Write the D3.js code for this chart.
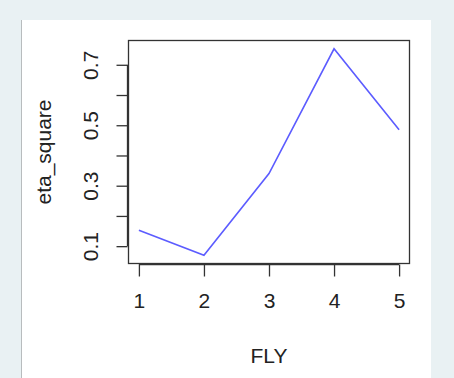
<!DOCTYPE html>
<html>
<head>
<meta charset="utf-8">
<script src="https://cdn.jsdelivr.net/npm/d3@7"></script>
<style>
  body { margin: 0; background: #e9f1f3; }
  svg { display: block; }
</style>
</head>
<body>
<script>
  //=DATA=//
  const fly = [1, 2, 3, 4, 5];
  const etaSquare = [0.153, 0.07, 0.34, 0.753, 0.485];
  const yTicks = [0.1, 0.2, 0.3, 0.4, 0.5, 0.6, 0.7];
  const yLabels = [0.1, 0.3, 0.5, 0.7];

  //=SVG AREA=//
  const width = 454;
  const height = 378;
  const box = {left: 128.5, right: 409.5, top: 40.5, bottom: 263.5};
  const font = "'Liberation Sans', Arial, sans-serif";

  const svg = d3.select("body")
  .append("svg")
  .attr("width", width)
  .attr("height", height);

  // white panel with thin grey left edge
  svg.append("rect")
  .attr("x", 22).attr("y", 20)
  .attr("width", 409).attr("height", 358)
  .attr("fill", "#ffffff");
  svg.append("line")
  .attr("x1", 21.5).attr("x2", 21.5)
  .attr("y1", 20).attr("y2", 378)
  .attr("stroke", "#b8bcbe");

  // R style scales: range extended 4% each side
  const xMin = d3.min(fly), xMax = d3.max(fly);
  const yMin = d3.min(etaSquare), yMax = d3.max(etaSquare);
  const xPad = (xMax - xMin) * 0.04, yPad = (yMax - yMin) * 0.04;

  const x = d3.scaleLinear()
  .domain([xMin - xPad, xMax + xPad])
  .range([box.left, box.right]);

  const y = d3.scaleLinear()
  .domain([yMin - yPad, yMax + yPad])
  .range([box.bottom, box.top]);

  //==AXES==
  const xAxis = d3.axisBottom(x)
  .tickValues(fly)
  .tickSize(12)
  .tickPadding(17)
  .tickFormat(d3.format("d"));

  const yAxis = d3.axisLeft(y)
  .tickValues(yTicks)
  .tickSize(11)
  .tickFormat(d => yLabels.some(v => Math.abs(v - d) < 1e-9) ? d3.format(".1f")(d) : "");

  const gx = svg.append("g")
  .attr("transform", "translate(0," + (box.bottom + 1) + ")")
  .call(xAxis);

  const gy = svg.append("g")
  .attr("transform", "translate(" + (box.left - 1) + ",0)")
  .call(yAxis);

  [gx, gy].forEach(g => {
    g.select(".domain").attr("stroke", "#333").attr("stroke-width", 1.3);
    g.selectAll(".tick line").attr("stroke", "#333").attr("stroke-width", 1.3);
    g.selectAll(".tick text")
    .attr("fill", "#222")
    .style("font-family", font)
    .style("font-size", "21px");
  });
  gx.select(".domain").attr("d", "M" + x(1) + ",0H" + x(5));
  gy.select(".domain").attr("d", "M0," + y(0.1) + "V" + y(0.7));

  // rotate y tick labels like R
  gy.selectAll(".tick text")
  .attr("x", 0)
  .attr("dy", null)
  .attr("text-anchor", "middle")
  .attr("transform", "translate(-37,0) rotate(-90)")
  .attr("dominant-baseline", "central");

  //==PLOT BOX==
  svg.append("rect")
  .attr("x", box.left).attr("y", box.top)
  .attr("width", box.right - box.left)
  .attr("height", box.bottom - box.top)
  .attr("fill", "none")
  .attr("stroke", "#333")
  .attr("stroke-width", 1.3);

  //==LINE==
  const line = d3.line()
  .x((d, i) => x(fly[i]))
  .y(d => y(d));

  svg.append("path")
  .datum(etaSquare)
  .attr("fill", "none")
  .attr("stroke", "#5c5cff")
  .attr("stroke-width", 1.6)
  .attr("d", line);

  //==TITLES==
  svg.append("text")
  .attr("x", (box.left + box.right) / 2)
  .attr("y", 363)
  .attr("text-anchor", "middle")
  .attr("fill", "#222")
  .style("font-family", font)
  .style("font-size", "21px")
  .text("FLY");

  svg.append("text")
  .attr("transform", "translate(43," + ((box.top + box.bottom) / 2) + ") rotate(-90)")
  .attr("text-anchor", "middle")
  .attr("dominant-baseline", "central")
  .attr("fill", "#222")
  .style("font-family", font)
  .style("font-size", "21px")
  .text("eta_square");
</script>
</body>
</html>
